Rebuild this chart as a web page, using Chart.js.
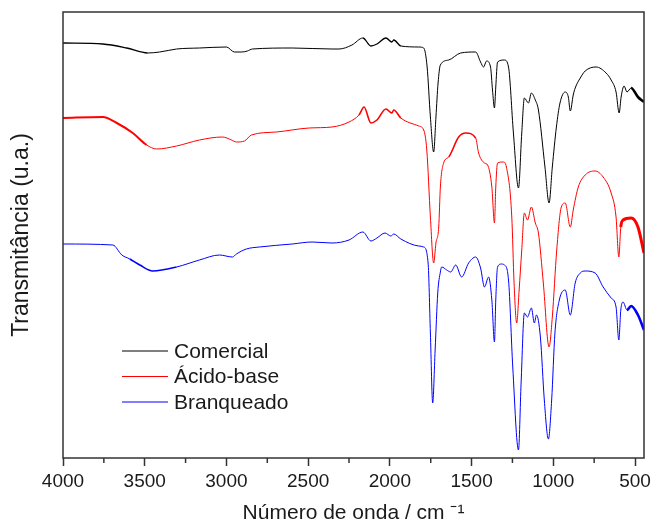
<!DOCTYPE html>
<html>
<head>
<meta charset="utf-8">
<script src="https://cdn.jsdelivr.net/npm/chart.js@4/dist/chart.umd.min.js"></script>
<style>
    html, body { margin: 0; padding: 0; background: #fff; }
    #wrap { width: 655px; height: 524px; position: relative; }
</style>
</head>
<body>
<div id="wrap"><canvas id="ftirChart"></canvas></div>
<script>
// wavenumber (cm-1) and transmittance (u.a.)
const xTickValues = [4000, 3500, 3000, 2500, 2000, 1500, 1000, 500]

const wnComercial = [4000, 3756, 3610, 3482, 3408, 3305, 3165, 3000, 2951, 2908, 2872, 2841, 2597, 2354, 2311, 2232, 2165, 2116, 2079, 2024, 1988, 1976, 1933, 1823, 1793, 1772, 1752, 1732, 1718, 1705, 1691, 1640, 1567, 1475, 1445, 1427, 1408, 1384, 1372, 1360, 1352, 1341, 1299, 1274, 1244, 1213, 1193, 1177, 1152, 1134, 1110, 1091, 1051, 1026, 1006, 981, 959, 927, 908, 896, 878, 866, 835, 805, 738, 677, 646, 616, 597, 585, 567, 549, 524, 482, 445]
const tComercial = [415, 414, 410, 405, 406, 409, 410, 411, 406, 406, 407, 409, 410, 409, 409, 413, 420, 412, 414, 420, 416, 418, 412, 411, 410, 391, 341, 306, 341, 375, 393, 398, 405, 406, 396, 391, 397, 391, 368, 350, 371, 396, 398, 391, 325, 270, 325, 360, 355, 365, 358, 348, 291, 255, 291, 331, 355, 366, 361, 347, 363, 370, 380, 387, 391, 385, 378, 366, 345, 361, 372, 366, 370, 361, 356]

const wnAcidoBase = [4000, 3756, 3671, 3573, 3488, 3427, 3305, 3165, 3024, 2969, 2939, 2890, 2847, 2695, 2494, 2354, 2250, 2189, 2158, 2116, 2079, 2024, 1988, 1976, 1933, 1823, 1793, 1774, 1752, 1732, 1718, 1701, 1691, 1671, 1640, 1579, 1536, 1475, 1457, 1421, 1402, 1376, 1360, 1352, 1341, 1305, 1287, 1254, 1240, 1224, 1209, 1193, 1177, 1158, 1134, 1110, 1091, 1061, 1026, 1006, 979, 951, 927, 896, 878, 847, 805, 744, 695, 646, 616, 599, 587, 573, 524, 482, 445]
const tAcidoBase = [340, 341, 335, 325, 313, 309, 312, 318, 321, 318, 316, 317, 323, 326, 330, 331, 336, 343, 351, 335, 338, 349, 345, 348, 340, 332, 328, 308, 241, 195, 215, 231, 271, 295, 301, 321, 325, 320, 305, 295, 293, 271, 235, 271, 295, 296, 291, 241, 175, 135, 168, 208, 245, 238, 251, 235, 225, 175, 111, 141, 208, 251, 255, 231, 248, 271, 283, 287, 281, 265, 241, 201, 231, 238, 240, 231, 205]

const wnBranqueado = [4000, 3695, 3640, 3591, 3530, 3451, 3305, 3165, 3043, 2963, 2939, 2878, 2799, 2597, 2476, 2354, 2250, 2165, 2116, 2079, 2030, 1994, 1976, 1933, 1823, 1793, 1766, 1752, 1738, 1723, 1707, 1691, 1683, 1652, 1628, 1597, 1561, 1518, 1475, 1445, 1421, 1396, 1376, 1360, 1352, 1341, 1317, 1299, 1274, 1248, 1213, 1197, 1177, 1158, 1134, 1116, 1103, 1079, 1055, 1030, 1010, 990, 963, 927, 896, 866, 835, 805, 744, 695, 646, 616, 599, 587, 573, 549, 524, 482, 445]
const tBranqueado = [214, 213, 203, 199, 193, 187, 191, 198, 203, 201, 204, 209, 211, 214, 216, 215, 218, 226, 217, 220, 225, 222, 224, 219, 212, 211, 195, 125, 55, 108, 165, 186, 191, 188, 186, 193, 181, 195, 201, 190, 171, 181, 158, 116, 158, 191, 194, 193, 178, 91, 8, 75, 145, 141, 150, 135, 143, 121, 58, 19, 58, 125, 158, 168, 143, 175, 185, 187, 185, 171, 160, 151, 118, 148, 156, 148, 152, 143, 128]

function toPoints(wn, t) {
    return wn.map((x, i) => ({ x: x, y: t[i] }))
}

// noisy stretches of the spectra are drawn a bit thicker
function noisyWidth(ranges) {
    return ctx => {
        const x = ctx.p0.parsed.x
        for (const r of ranges) {
            if (x <= r[0] && x > r[1]) return r[2]
        }
        return undefined
    }
}

Chart.defaults.font.family = '"Liberation Sans", Arial, sans-serif'
Chart.defaults.color = '#1a1a1a'

//frame and minor ticks
const framePlugin = {
    id: 'framePlugin',
    afterDatasetsDraw(chart) {
        const { ctx, chartArea: a } = chart
        const xs = chart.scales.x
        ctx.save()
        ctx.strokeStyle = '#333'
        ctx.lineWidth = 1.5
        ctx.strokeRect(a.left, a.top, a.right - a.left, a.bottom - a.top)
        for (let v = 3750; v > xs.min; v -= 500) {
            const px = xs.getPixelForValue(v)
            ctx.beginPath()
            ctx.moveTo(px, a.bottom)
            ctx.lineTo(px, a.bottom + 5)
            ctx.stroke()
        }
        ctx.restore()
    }
}

//legend inside the plot
const innerLegend = {
    id: 'innerLegend',
    afterDraw(chart) {
        const ctx = chart.ctx
        ctx.save()
        ctx.font = '21px "Liberation Sans", Arial, sans-serif'
        ctx.textBaseline = 'middle'
        chart.data.datasets.forEach((ds, i) => {
            const y = 351 + i * 25.5
            ctx.strokeStyle = ds.borderColor
            ctx.lineWidth = 1
            ctx.beginPath()
            ctx.moveTo(122, y)
            ctx.lineTo(168, y)
            ctx.stroke()
            ctx.fillStyle = '#1a1a1a'
            ctx.fillText(ds.label, 174, y + 1)
        })
        ctx.restore()
    }
}

const ftirData = {
    datasets: [{
        label: 'Comercial',
        data: toPoints(wnComercial, tComercial),
        borderColor: '#000000',
        segment: { borderWidth: noisyWidth([[4000, 3500, 1.3], [2200, 1950, 1.3], [540, 400, 2.6]]) }
    }, {
        label: 'Ácido-base',
        data: toPoints(wnAcidoBase, tAcidoBase),
        borderColor: '#ff0000',
        segment: { borderWidth: noisyWidth([[4000, 3540, 2], [2200, 1950, 1.6], [1650, 1520, 1.6], [590, 400, 3]]) }
    }, {
        label: 'Branqueado',
        data: toPoints(wnBranqueado, tBranqueado),
        borderColor: '#0000ff',
        segment: { borderWidth: noisyWidth([[3600, 3400, 1.6], [560, 400, 2.6]]) }
    }]
}

const ftirConfig = {
    type: 'line',
    data: ftirData,
    plugins: [framePlugin, innerLegend],
    options: {
        responsive: true,
        maintainAspectRatio: false,
        animation: false,
        events: [],
        layout: { padding: { top: 12, right: 9, left: 0, bottom: 0 } },
        elements: {
            point: { radius: 0 },
            line: { borderWidth: 1, tension: 0, cubicInterpolationMode: 'monotone' }
        },
        plugins: {
            legend: { display: false },
            tooltip: { enabled: false }
        },
        scales: {
            x: {
                type: 'linear',
                reverse: true,
                min: 445,
                max: 4000,
                afterBuildTicks: s => { s.ticks = xTickValues.map(v => ({ value: v })) },
                afterFit: s => { s.height = 66 },
                border: { display: false },
                grid: { drawOnChartArea: false, tickLength: 8, tickColor: '#333', tickWidth: 1.5 },
                ticks: {
                    font: { size: 19 },
                    color: '#1a1a1a',
                    padding: 4,
                    maxRotation: 0,
                    autoSkip: false,
                    callback: v => String(v)
                },
                title: {
                    display: true,
                    text: 'Número de onda / cm ⁻¹',
                    font: { size: 21, lineHeight: 1 },
                    padding: { top: 0, bottom: 0 }
                }
            },
            y: {
                min: 0,
                max: 446,
                afterFit: s => { s.width = 63 },
                border: { display: false },
                grid: { display: false },
                ticks: { display: false },
                title: {
                    display: true,
                    text: 'Transmitância (u.a.)',
                    font: { size: 23, lineHeight: 1 },
                    padding: { top: 10, bottom: 0 }
                }
            }
        }
    }
}

const ftirChart = new Chart(
    document.getElementById('ftirChart'),
    ftirConfig
)
</script>
</body>
</html>
